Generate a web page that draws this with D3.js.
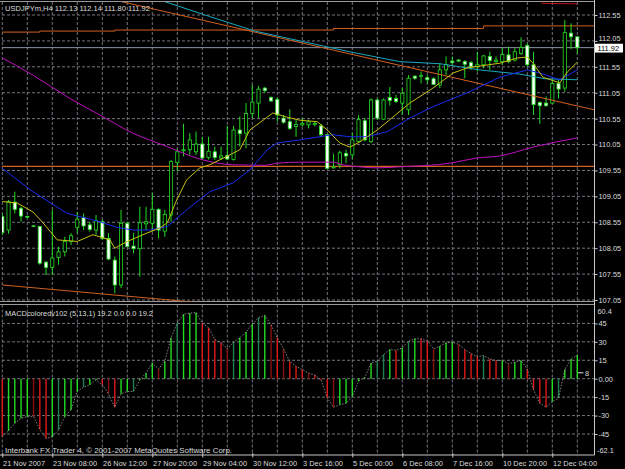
<!DOCTYPE html>
<html><head><meta charset="utf-8">
<script src="https://cdn.jsdelivr.net/npm/d3@7"></script>
<style>html,body{margin:0;padding:0;background:#000;}svg{display:block;}</style>
</head><body>
<svg id="c" width="625" height="469"></svg>
<script>
// ---------- DATA ----------
const symbolTitle = "USDJPYm,H4  112.13 112.14 111.80 111.92";
const macdTitle = "MACDcoloredv102 (5,13,1) 19.2 0.0 0.0 19.2";
const footerText = "Interbank FX Trader 4, \u00a9 2001-2007 MetaQuotes Software Corp.";
const dateLabels = ["21 Nov 2007","23 Nov 08:00","26 Nov 12:00","27 Nov 20:00","29 Nov 04:00","30 Nov 12:00","3 Dec 16:00","5 Dec 00:00","6 Dec 08:00","7 Dec 16:00","10 Dec 20:00","12 Dec 04:00"];
const dateTickBars = [0,8,16,24,32,40,48,56,64,72,80,88];
const priceTicks = [107.05,107.55,108.05,108.55,109.05,109.55,110.05,110.55,111.05,111.55,112.05,112.55];
const macdTicks = [45,30,15,0,-15,-30,-45];
const macdTickLabels = ["45","30","15","0.00","-15","-30","-45"];
const macdMax = 60.4, macdMin = -62.1;
const bidPrice = 111.92;

const openP = [108.66,108.40,108.94,108.82,108.66,108.48,108.47,107.78,107.68,107.87,
108.98,108.18,108.45,108.64,108.50,108.40,108.56,108.24,107.82,107.34,
108.53,108.09,108.04,108.52,108.53,108.80,108.38,108.69,109.70,109.93,
109.95,109.91,110.06,109.80,109.91,109.79,109.84,109.76,110.33,110.27,
110.65,110.85,111.14,110.96,110.92,110.56,110.49,110.40,110.43,110.43,
110.44,110.41,110.24,109.60,109.66,109.88,109.85,110.11,110.51,110.11,
110.91,110.54,110.96,110.94,110.85,110.72,111.37,111.37,111.34,111.32,
111.20,111.49,111.66,111.68,111.65,111.63,111.55,111.59,111.75,111.65,
111.65,111.78,111.68,111.81,111.96,111.59,110.86,110.85,110.85,111.23,
111.14,112.20,112.13];
openP[10] = 107.98;
const highP = [108.72,108.98,109.14,108.85,108.68,108.50,108.48,107.80,108.79,108.08,
108.27,108.34,108.75,108.72,108.56,108.69,108.60,108.34,107.89,108.79,
108.56,108.34,108.85,108.85,109.11,108.82,108.79,109.75,109.96,110.45,
110.27,110.30,110.20,110.20,110.01,110.01,110.41,110.41,110.59,110.85,
111.20,111.18,111.16,110.98,110.96,110.62,110.73,110.53,110.56,110.53,
110.49,110.45,110.25,109.87,109.93,109.95,110.27,110.62,110.56,110.94,
110.94,110.94,111.16,111.01,111.14,111.39,111.39,111.46,111.39,111.35,
111.62,111.75,111.75,111.70,111.68,111.66,111.84,111.78,111.84,111.75,
111.91,111.94,111.91,112.12,112.00,111.84,110.88,110.98,111.30,111.30,
112.45,112.39,112.14];
const lowP = [108.30,108.33,108.72,108.56,108.64,108.46,107.73,107.53,107.53,107.73,
107.89,108.11,108.34,108.40,108.37,108.31,108.21,107.82,107.18,107.28,
108.07,107.95,107.50,108.40,108.37,108.24,108.27,108.56,109.53,109.82,
109.85,109.85,109.75,109.76,109.75,109.75,109.75,109.74,110.01,109.98,
110.56,110.56,111.05,110.88,110.49,110.45,110.33,110.20,110.40,110.36,
110.40,110.20,109.58,109.59,109.59,109.69,109.78,110.08,110.11,110.08,
110.53,110.53,110.80,110.85,110.62,110.62,111.30,111.23,111.23,111.20,
111.14,111.39,111.59,111.65,111.33,111.49,111.46,111.52,111.49,111.62,
111.59,111.62,111.65,111.78,111.55,110.62,110.45,110.78,110.83,110.94,
111.07,111.89,111.80];
const closeP = [108.35,108.95,108.80,108.67,108.65,108.47,107.76,107.68,107.86,107.98,
108.18,108.29,108.61,108.48,108.41,108.58,108.24,107.84,107.34,108.53,
108.08,108.04,108.54,108.56,108.80,108.40,108.70,109.72,109.91,109.95,
110.14,110.06,109.79,109.92,109.80,109.83,109.77,110.33,110.26,110.65,
110.87,111.12,111.09,110.89,110.62,110.48,110.36,110.44,110.46,110.49,
110.46,110.24,109.59,109.62,109.89,109.83,110.14,110.53,110.14,110.91,
110.56,110.91,110.90,110.88,111.04,111.33,111.33,111.38,111.30,111.21,
111.49,111.59,111.63,111.66,111.60,111.55,111.59,111.76,111.67,111.68,
111.79,111.65,111.84,111.92,111.59,110.82,110.80,110.80,111.23,111.12,
112.21,112.13,111.92];

// moving averages / lines: [bar index, price]
const fastMA = [[0,108.95],[2.4,108.92],[4.9,108.75],[6.5,108.54],[8.8,108.21],[12,108.18],[14.5,108.31],[17.2,108.21],[18,108.05],[20,108.18],[22.5,108.31],[25.2,108.44],[26.4,108.54],[27.9,108.98],[29.5,109.37],[31.6,109.60],[33.2,109.66],[36.4,109.85],[38,109.95],[39.6,110.33],[42.4,110.58],[43.3,110.66],[45.5,110.58],[47.6,110.52],[50.4,110.49],[52,110.33],[54,110.08],[55.6,110.00],[57.2,110.10],[58.4,110.20],[60,110.33],[62.5,110.58],[65.2,110.85],[68.9,111.14],[72.1,111.43],[74.4,111.53],[79.6,111.62],[82.4,111.72],[84,111.74],[84.9,111.62],[86.5,111.35],[89.2,111.24],[90.4,111.45],[92,111.64]];
const midMA = [[0,109.59],[4.9,109.14],[10.4,108.72],[15.6,108.56],[18.4,108.45],[20.9,108.40],[23.6,108.40],[26.4,108.47],[29.5,108.79],[33.2,109.14],[36.9,109.31],[39.6,109.56],[42.4,109.95],[44,110.08],[47.6,110.14],[52.9,110.24],[55.6,110.20],[58.4,110.20],[61.6,110.30],[65.2,110.56],[68.9,110.78],[74.4,111.05],[79.6,111.35],[84,111.49],[86,111.43],[89.2,111.30],[92,111.49]];
const slowMA = [[0,111.72],[4.9,111.39],[10.4,110.97],[15.6,110.62],[20.9,110.27],[26.4,110.01],[31.6,109.77],[36.9,109.66],[42,109.65],[44,109.69],[47.6,109.71],[52.9,109.71],[54.5,109.66],[57.2,109.62],[59.9,109.60],[63.6,109.62],[71.6,109.69],[75.9,109.79],[79.6,109.83],[84.9,110.00],[92,110.18]];
const cyanMA = [[25.2,112.84],[33.2,112.52],[40.4,112.24],[47.6,112.05],[55.6,111.84],[63.6,111.65],[70,111.61],[76.4,111.49],[82.8,111.41],[86.8,111.32],[92,111.30]];
const redMA = [[86.3,112.775],[92,112.765]];
const trendDown = [[17.9,112.84],[94.7,110.72]];
const trendLow = [[0,107.34],[32.4,106.99]];
const levelUpper = [[-0.4,112.22],[6,112.24],[18,112.26],[53,112.29],[77,112.34],[94.7,112.34]];
const levelMid = [[-0.4,109.63],[94.7,109.63]];

const macdVals = [-47,-42.4,-36.3,-32.2,-30.9,-30.9,-41.3,-48.6,-47.3,-41.8,
-30.9,-25.4,-10.4,-6.8,-4.9,-1,-4.9,-12.3,-23.2,-12.3,
-10.4,-10.4,-1,4.6,12.8,7.9,14.2,33.3,45.6,52.5,
53.3,53.8,45.1,41.5,32,29.2,24.3,29.8,33.3,38,
44.3,49.7,51.6,44,33.3,24.3,14.2,10.1,7.4,4.6,
3,-1,-15.8,-23.2,-21.3,-20,-14.5,-2,1,12.8,
14.2,19.7,23.8,23.2,25.1,30.6,32.5,32.5,30.6,24.3,
26.5,29.2,29.8,27.9,23.8,20.5,17.8,18.9,16.1,14.8,
14.8,12.3,13.4,14.8,7.9,-9,-20,-23.2,-18.6,-15.8,
7.4,16.1,19.2];
const macdColorCodes = "rggggRrrgGgggGggrRrggGgggRggGgggrrrrRGgggGgRrRrrrRrrrRggggggGGgrgGgrrRgggRrrrGrrgRggrrrrgGggg";

// ---------- LAYOUT ----------
const W = 625, H = 469;
const axisX = 594.5;
const mainTop = 2, mainBottom = 301.5, subTop = 304.5, subBottom = 455;
const lime = "#22dd22";
const txt = "#dcdcdc";
const font = "'Liberation Sans', Arial, sans-serif";

const svg = d3.select("#c");
svg.append("rect").attr("width",W).attr("height",H).attr("fill","#000");

const x = d3.scaleLinear().domain([0,92]).range([2.3,577.3]);
const y = d3.scaleLinear().domain([107.05,112.55]).range([300,15]);
const ym = d3.scaleLinear().domain([macdMin,macdMax]).range([subBottom,subTop]);

const defs = svg.append("defs");
defs.append("clipPath").attr("id","mainClip").append("rect").attr("x",2).attr("y",mainTop).attr("width",axisX-2).attr("height",mainBottom-mainTop);

const gridCol = "#74747e";
const vgrid = d3.range(0,93,4);
[[mainTop,mainBottom],[subTop,subBottom]].forEach(([t,b])=>{
  svg.append("g").selectAll("line").data(vgrid).join("line")
    .attr("x1",d=>x(d)).attr("x2",d=>x(d)).attr("y1",t).attr("y2",b)
    .attr("stroke",gridCol).attr("stroke-width",1).attr("stroke-dasharray","3,2");
});
svg.append("g").selectAll("line").data(priceTicks).join("line")
  .attr("x1",2).attr("x2",axisX).attr("y1",d=>y(d)).attr("y2",d=>y(d))
  .attr("stroke",gridCol).attr("stroke-dasharray","3,2");
svg.append("g").selectAll("line").data(macdTicks).join("line")
  .attr("x1",2).attr("x2",axisX).attr("y1",d=>ym(d)).attr("y2",d=>ym(d))
  .attr("stroke",gridCol).attr("stroke-dasharray","3,2");

// frame lines
const frameCol = "#9a9a9a";
svg.append("line").attr("x1",0).attr("x2",axisX).attr("y1",1.5).attr("y2",1.5).attr("stroke",frameCol);
svg.append("line").attr("x1",0).attr("x2",axisX).attr("y1",mainBottom).attr("y2",mainBottom).attr("stroke",frameCol);
svg.append("line").attr("x1",0).attr("x2",axisX).attr("y1",subTop).attr("y2",subTop).attr("stroke",frameCol);
svg.append("line").attr("x1",0).attr("x2",axisX).attr("y1",subBottom).attr("y2",subBottom).attr("stroke","#c8c8c8");
svg.append("line").attr("x1",axisX).attr("x2",axisX).attr("y1",0).attr("y2",subBottom).attr("stroke","#c8c8c8");

const main = svg.append("g").attr("clip-path","url(#mainClip)");
const lineGen = d3.line().x(d=>x(d[0])).y(d=>y(d[1]));

// bid line
main.append("line").attr("x1",2).attr("x2",axisX).attr("y1",y(bidPrice)).attr("y2",y(bidPrice)).attr("stroke","#8a96a6").attr("stroke-width",1);

// horizontal levels & trend lines
main.append("path").datum(levelUpper).attr("d",d3.line().x(d=>x(d[0])).y(d=>y(d[1])).curve(d3.curveStepAfter)).attr("fill","none").attr("stroke","#d2601e").attr("stroke-width",1);
main.append("path").datum(levelMid).attr("d",lineGen).attr("fill","none").attr("stroke","#d2601e").attr("stroke-width",1.2);
main.append("path").datum(trendLow).attr("d",lineGen).attr("fill","none").attr("stroke","#d2601e").attr("stroke-width",1);
main.append("path").datum(redMA).attr("d",lineGen).attr("fill","none").attr("stroke","#c01010").attr("stroke-width",1);

// candles
const idx = d3.range(openP.length);
main.append("g").selectAll("line").data(idx).join("line")
  .attr("x1",i=>x(i)).attr("x2",i=>x(i))
  .attr("y1",i=>y(highP[i])).attr("y2",i=>y(lowP[i]))
  .attr("stroke",lime).attr("stroke-width",1);
const bw = 3.2;
main.append("g").selectAll("rect").data(idx).join("rect")
  .attr("x",i=>x(i)-bw/2)
  .attr("y",i=>y(Math.max(openP[i],closeP[i])))
  .attr("width",bw)
  .attr("height",i=>Math.max(0.6,Math.abs(y(openP[i])-y(closeP[i]))))
  .attr("fill",i=>closeP[i]>=openP[i]?"#000":"#ffffff")
  .attr("stroke",lime).attr("stroke-width",0.8);

// moving averages
main.append("path").datum(trendDown).attr("d",lineGen).attr("fill","none").attr("stroke","#d2601e").attr("stroke-width",1);
main.append("path").datum(cyanMA).attr("d",lineGen).attr("fill","none").attr("stroke","#18a8c0").attr("stroke-width",1);
main.append("path").datum(slowMA).attr("d",d3.line().x(d=>x(d[0])).y(d=>y(d[1])).curve(d3.curveMonotoneX)).attr("fill","none").attr("stroke","#c010c0").attr("stroke-width",1);
main.append("path").datum(midMA).attr("d",lineGen).attr("fill","none").attr("stroke","#1a2cf0").attr("stroke-width",1);
main.append("path").datum(fastMA).attr("d",lineGen).attr("fill","none").attr("stroke","#c8c010").attr("stroke-width",1);

// MACD histogram
const cmap = {g:"#22dd22",G:"#1f8050",r:"#e01818",R:"#8a1010"};
svg.append("g").selectAll("line").data(idx).join("line")
  .attr("x1",i=>x(i)).attr("x2",i=>x(i))
  .attr("y1",ym(0)).attr("y2",i=>ym(macdVals[i]))
  .attr("stroke",i=>cmap[macdColorCodes[i]]).attr("stroke-width",1.4);
svg.append("path").datum(idx).attr("d",d3.line().x(i=>x(i)).y(i=>ym(macdVals[i])))
  .attr("fill","none").attr("stroke","#a0a0a0").attr("stroke-width",0.8).attr("stroke-dasharray","1.5,1.5");

// price axis
const pax = svg.append("g").attr("transform",`translate(${axisX},0)`)
  .call(d3.axisRight(y).tickValues(priceTicks).tickSize(3).tickPadding(1).tickFormat(d3.format(".2f")));
pax.select(".domain").remove();
pax.selectAll("line").attr("stroke","#c8c8c8");
pax.selectAll("text").attr("fill",txt).style("font-family",font).style("font-size","7.4px");
// label next to the bid box is nudged up (as the terminal does)
pax.selectAll(".tick").filter(d=>Math.abs(d-112.05)<1e-6).select("text").attr("y",-2.6);

// bid box
svg.append("rect").attr("x",595).attr("y",y(bidPrice)-3.9).attr("width",28).attr("height",8.8).attr("fill","#ffffff");
svg.append("text").attr("x",597.5).attr("y",y(bidPrice)+3.6).text(bidPrice.toFixed(2))
  .attr("fill","#000").style("font-family",font).style("font-size","7.4px");

// MACD axis
const max = svg.append("g").attr("transform",`translate(${axisX},0)`)
  .call(d3.axisRight(ym).tickValues(macdTicks).tickSize(3).tickPadding(1).tickFormat((d,i)=>macdTickLabels[i]));
max.select(".domain").remove();
max.selectAll("line").attr("stroke","#c8c8c8");
max.selectAll("text").attr("fill",txt).style("font-family",font).style("font-size","7.4px");
svg.append("text").attr("x",597.5).attr("y",313.5).text(macdMax.toFixed(1)).attr("fill",txt).style("font-family",font).style("font-size","7.4px");
svg.append("text").attr("x",597).attr("y",452.5).text(macdMin.toFixed(1)).attr("fill",txt).style("font-family",font).style("font-size","7.4px");

// last value marker
svg.append("line").attr("x1",578).attr("x2",583.5).attr("y1",372.8).attr("y2",372.8).attr("stroke",txt);
svg.append("text").attr("x",585).attr("y",375.6).text("8").attr("fill",txt).style("font-family",font).style("font-size","7.4px");

// date axis
const dax = svg.append("g").attr("transform",`translate(0,${subBottom})`)
  .call(d3.axisBottom(x).tickValues(dateTickBars).tickSize(3).tickFormat((d,i)=>dateLabels[i]));
dax.select(".domain").remove();
dax.selectAll("line").attr("stroke","#c8c8c8").attr("y1",-2).attr("y2",2.5);
dax.selectAll("text").attr("fill",txt).attr("text-anchor","start").attr("dx","0.3").attr("dy","0").attr("y",11)
  .style("font-family",font).style("font-size","7.4px");

// titles
svg.append("text").attr("x",5).attr("y",10.5).text(symbolTitle).attr("textLength",145).attr("lengthAdjust","spacingAndGlyphs")
  .attr("fill",txt).style("font-family",font).style("font-size","7.8px");
svg.append("text").attr("x",5).attr("y",316).text(macdTitle).attr("textLength",148).attr("lengthAdjust","spacingAndGlyphs")
  .attr("fill",txt).style("font-family",font).style("font-size","7.8px");
svg.append("text").attr("x",5).attr("y",452.5).text(footerText).attr("textLength",227).attr("lengthAdjust","spacingAndGlyphs")
  .attr("fill",txt).style("font-family",font).style("font-size","7.8px");
</script>
</body></html>
